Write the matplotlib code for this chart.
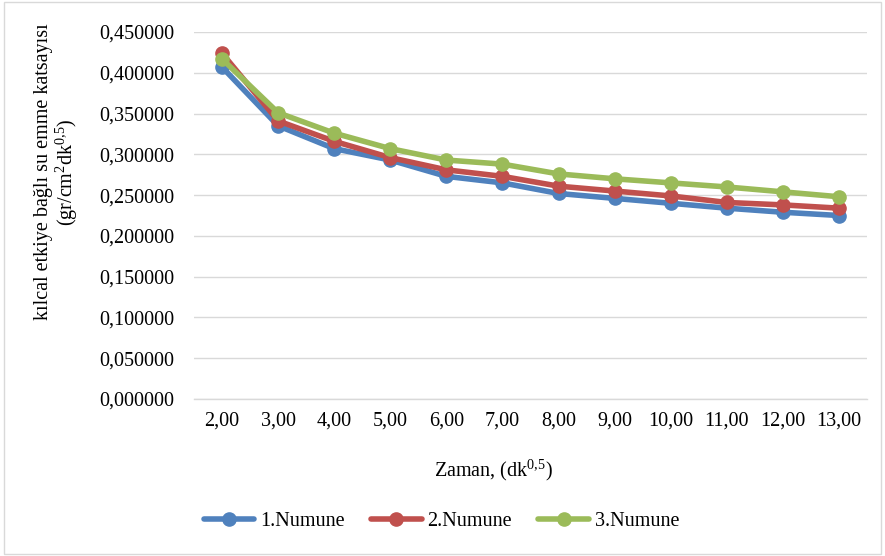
import matplotlib
matplotlib.use("Agg")
import matplotlib.pyplot as plt
from matplotlib.patches import Rectangle
from matplotlib.ticker import FuncFormatter

# ----------------------------------------------------------------------------------------------------------------------
#  DATA
# ----------------------------------------------------------------------------------------------------------------------
zaman    = [2, 3, 4, 5, 6, 7, 8, 9, 10, 11, 12, 13]
numune_1 = [0.407, 0.335, 0.307, 0.293, 0.273, 0.265, 0.252, 0.246, 0.240, 0.234, 0.229, 0.225]
numune_2 = [0.424, 0.341, 0.316, 0.296, 0.281, 0.273, 0.261, 0.255, 0.249, 0.241, 0.238, 0.234]
numune_3 = [0.417, 0.351, 0.326, 0.307, 0.293, 0.288, 0.276, 0.270, 0.265, 0.260, 0.254, 0.248]
series_labels = ['1.Numune', '2.Numune', '3.Numune']
y_ticks  = [0.00, 0.05, 0.10, 0.15, 0.20, 0.25, 0.30, 0.35, 0.40, 0.45]

# ----------------------------------------------------------------------------------------------------------------------
#  STYLE
# ----------------------------------------------------------------------------------------------------------------------
plt.rcParams.update({'font.family': ['Liberation Serif', 'DejaVu Serif'],
                     'mathtext.fontset': 'custom',
                     'mathtext.rm': 'Liberation Serif',
                     'mathtext.it': 'Liberation Serif:italic',
                     'font.size': 14.5})

line_colors = ['#4F81BD', '#C0504D', '#9BBB59']
grid_color  = '#D9D9D9'

fig = plt.figure(figsize=(8.85, 5.56), dpi=100)
ax  = fig.add_axes([0.2192, 0.2824, 0.7605, 0.660])

positions = list(range(len(zaman)))
for values, color, label in zip([numune_1, numune_2, numune_3], line_colors, series_labels):
    ax.plot(positions, values, color=color, linewidth=4.0, marker='o', markersize=9.5,
            label=label, solid_capstyle='round')

ax.set_xlim(-0.5, len(zaman) - 0.5)
ax.set_ylim(0, 0.45)
ax.set_xticks(positions)
ax.set_xticklabels([('%.2f' % z).replace('.', ',') for z in zaman])
ax.set_yticks(y_ticks)
ax.yaxis.set_major_formatter(FuncFormatter(lambda v, p: ('%.6f' % v).replace('.', ',')))
ax.tick_params(axis='both', length=0, colors='black')
ax.tick_params(axis='y', pad=14)
ax.tick_params(axis='x', pad=9)

ax.grid(axis='y', color=grid_color, linewidth=1.0)
ax.set_axisbelow(True)
for side in ['top', 'right', 'left']:
    ax.spines[side].set_visible(False)
ax.spines['bottom'].set_color(grid_color)
ax.spines['bottom'].set_linewidth(1.0)

# axis titles
fig.text(0.557, 1 - 470 / 556, r'Zaman, (dk$^{\mathrm{0{,}5}}$)', ha='center', va='center')
fig.text(0.064, 1 - 172 / 556,
         'kılcal etkiye bağlı su emme katsayısı\n(gr/cm$^{\\mathrm{2}}$dk$^{\\mathrm{0{,}5}}$)',
         rotation=90, ha='center', va='center', multialignment='center', linespacing=1.05)

# legend
leg = fig.legend(loc='center', bbox_to_anchor=(0.499, 1 - 521 / 556), ncol=3, frameon=False,
                 handlelength=2.5, columnspacing=1.3, handletextpad=0.3)

# chart border
fig.patches.append(Rectangle((0.004, 0.004), 0.992, 0.992, transform=fig.transFigure,
                             fill=False, edgecolor=grid_color, linewidth=1.0))

fig.savefig('out.png', dpi=100)
